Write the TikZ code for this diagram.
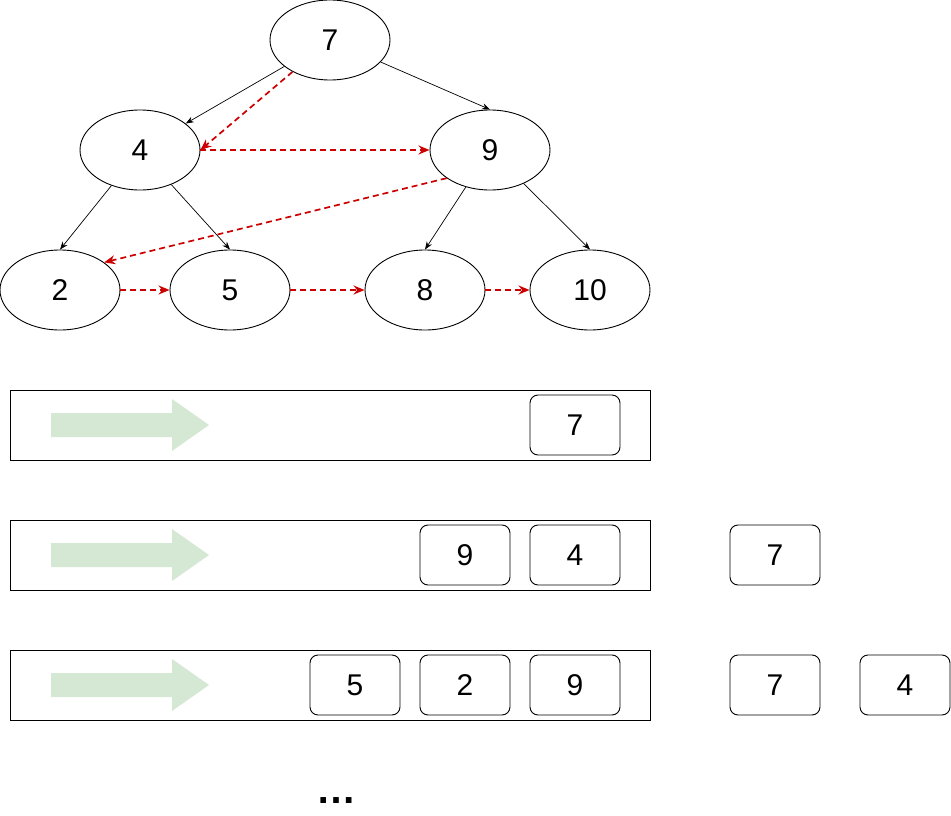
\documentclass[tikz,border=0pt]{standalone}
\usepackage{fontspec}
\setmainfont{Liberation Sans}
\usepackage{xcolor}
\usepackage{tikz}
\usetikzlibrary{positioning,shapes.geometric,arrows.meta}
\definecolor{tracered}{HTML}{CC0000}
\definecolor{flowgreen}{HTML}{D5E8D4}
\tikzset{
    treenode/.style={ellipse, draw, line width=0.9pt, minimum width=120pt, minimum height=80pt, inner sep=0pt, font=\fontsize{30}{34}\selectfont},
    child edge/.style={-{Stealth[length=8pt,width=6pt]}, line width=0.7pt},
    visit edge/.style={-{Stealth[length=11pt,width=9pt]}, draw=tracered, line width=1.7pt, dash pattern=on 6pt off 4pt},
    queue/.style={draw, line width=1pt, minimum width=640pt, minimum height=70pt, inner sep=0pt},
    cell/.style={draw, line width=0.9pt, rounded corners=8pt, minimum width=90pt, minimum height=60pt, inner sep=0pt, font=\fontsize{30}{34}\selectfont}
}

\begin{document}
\begin{tikzpicture}[x=1pt, y=-1pt]
    \useasboundingbox (0,0) rectangle (951,816);

    % tree nodes
    \node[treenode] (n7) at (330,40) {7};
    \node[treenode] (n4) at (140,150) {4};
    \node[treenode] (n9) at (490,150) {9};
    \node[treenode] (n2) at (60,290) {2};
    \node[treenode] (n5) at (230,290) {5};
    \node[treenode] (n8) at (425,290) {8};
    \node[treenode] (n10) at (590,290) {10};

    % child links
    \draw[child edge] (n7) -- (n4);
    \draw[child edge] (n7) -- (n9.north);
    \draw[child edge] (n4) -- (n2.north);
    \draw[child edge] (n4) -- (n5.north);
    \draw[child edge] (n9) -- (n8.north);
    \draw[child edge] (n9) -- (n10.north);

    % visiting order
    \draw[visit edge] (n7) -- (n4.east);
    \draw[visit edge] (n4.east) -- (n9.west);
    \draw[visit edge] (n9.213) -- (n2.32);
    \draw[visit edge] (n2.east) -- (n5.west);
    \draw[visit edge] (n5.east) -- (n8.west);
    \draw[visit edge] (n8.east) -- (n10.west);

    % queues
    \node[queue] (q1) at (330,425) {};
    \node[queue] (q2) at (330,555) {};
    \node[queue] (q3) at (330,685) {};
    \foreach \y in {425,555,685} {
        \fill[flowgreen] (51,\y-12) -- (172,\y-12) -- (172,\y-26) -- (209,\y)
            -- (172,\y+26) -- (172,\y+12) -- (51,\y+12) -- cycle;
    }

    % queue contents
    \node[cell] (q1a) at (575,425) {7};

    \node[cell] (q2a) at (465,555) {9};
    \node[cell] (q2b) at (575,555) {4};
    \node[cell] (out2a) at (775,555) {7};

    \node[cell] (q3a) at (355,685) {5};
    \node[cell] (q3b) at (465,685) {2};
    \node[cell] (q3c) at (575,685) {9};
    \node[cell] (out3a) at (775,685) {7};
    \node[cell] (out3b) at (905,685) {4};

    % more steps
    \node[anchor=base, inner sep=0pt, font=\fontsize{40}{44}\selectfont\bfseries] (more) at (336,803) {…};
\end{tikzpicture}
\end{document}
